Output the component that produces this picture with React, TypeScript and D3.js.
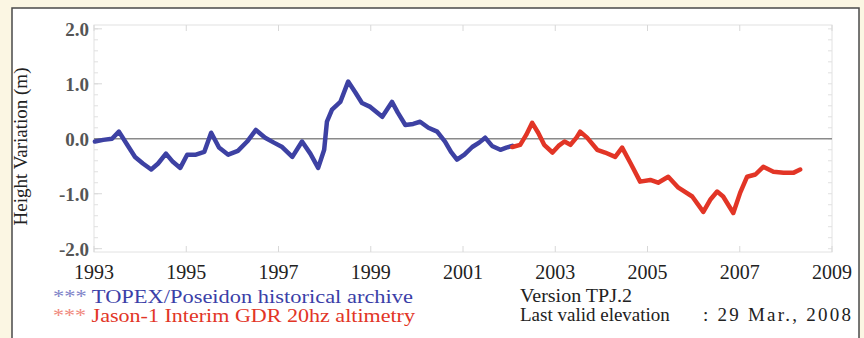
import React from "react";
import * as d3 from "d3";

const topexYears = [1993.02,1993.2,1993.39,1993.54,1993.72,1993.89,1994.06,1994.24,1994.39,1994.56,1994.71,1994.87,1995.02,1995.21,1995.39,1995.54,1995.71,1995.91,1996.12,1996.32,1996.51,1996.71,1996.9,1997.08,1997.3,1997.51,1997.69,1997.86,1997.99,1998.05,1998.16,1998.34,1998.51,1998.66,1998.81,1998.99,1999.25,1999.46,1999.59,1999.75,1999.92,2000.07,2000.25,2000.44,2000.61,2000.74,2000.87,2001.03,2001.2,2001.35,2001.48,2001.63,2001.81,2001.94,2002.07];
const topexValues = [-0.05,-0.02,0.0,0.13,-0.11,-0.33,-0.45,-0.56,-0.45,-0.27,-0.42,-0.53,-0.29,-0.29,-0.24,0.11,-0.16,-0.29,-0.22,-0.05,0.16,0.02,-0.07,-0.15,-0.33,-0.05,-0.27,-0.53,-0.2,0.31,0.53,0.67,1.04,0.85,0.65,0.58,0.4,0.67,0.47,0.25,0.27,0.31,0.2,0.13,-0.05,-0.24,-0.38,-0.29,-0.15,-0.07,0.02,-0.13,-0.2,-0.16,-0.13];

const jasonYears = [2002.07,2002.24,2002.37,2002.5,2002.63,2002.76,2002.94,2003.07,2003.2,2003.33,2003.46,2003.54,2003.69,2003.91,2004.08,2004.3,2004.45,2004.63,2004.84,2005.06,2005.23,2005.45,2005.67,2005.97,2006.21,2006.36,2006.51,2006.64,2006.86,2007.01,2007.16,2007.34,2007.51,2007.73,2007.95,2008.16,2008.31];
const jasonValues = [-0.15,-0.11,0.07,0.29,0.11,-0.11,-0.25,-0.13,-0.05,-0.11,0.02,0.13,0.02,-0.2,-0.25,-0.33,-0.16,-0.44,-0.78,-0.75,-0.8,-0.69,-0.89,-1.05,-1.33,-1.11,-0.96,-1.05,-1.35,-0.98,-0.69,-0.65,-0.51,-0.6,-0.62,-0.62,-0.56];

const xTicks = [1993, 1995, 1997, 1999, 2001, 2003, 2005, 2007, 2009];
const yTicks = [2, 1, 0, -1, -2];
const yMinor = d3.range(-2, 2.01, 0.2);

export default function App() {
  const W = 864, H = 338;
  const left = 94, right = 832, top = 25, bottom = 252;
  const x = d3.scaleLinear().domain([1993, 2009]).range([left, right]);
  const y = d3.scaleLinear().domain([-2.06, 2.07]).range([bottom, top]);
  const line = d3.line<[number, number]>().x(d => x(d[0])).y(d => y(d[1])).curve(d3.curveLinear);
  const topex: [number, number][] = topexYears.map((t, i) => [t, topexValues[i]]);
  const jason: [number, number][] = jasonYears.map((t, i) => [t, jasonValues[i]]);
  const serif = "'Liberation Serif', 'DejaVu Serif', serif";
  return (
    <svg width={W} height={H} style={{ position: "absolute", left: 0, top: 0 }}>
      <rect x={0} y={0} width={W} height={H} fill="#fbf6e3" />
      <rect x={12} y={8} width={847} height={340} fill="#ffffff" stroke="#4a4a4a" strokeWidth={1.5} />
      <rect x={left} y={top} width={right - left} height={bottom - top} fill="none" stroke="#e2e2e2" strokeWidth={1} />
      {yMinor.map((v, i) => (
        <g key={"m" + i}>
          <line x1={left} x2={left + 4} y1={y(v)} y2={y(v)} stroke="#e0e0e0" />
          <line x1={right - 4} x2={right} y1={y(v)} y2={y(v)} stroke="#e0e0e0" />
        </g>
      ))}
      {xTicks.map(t => (
        <g key={"xt" + t}>
          <line x1={x(t)} x2={x(t)} y1={bottom} y2={bottom - 6} stroke="#d8d8d8" />
          <line x1={x(t)} x2={x(t)} y1={top} y2={top + 6} stroke="#d8d8d8" />
          <text x={x(t)} y={279} textAnchor="middle" fontFamily={serif} fontSize={20} fill="#222">{t}</text>
        </g>
      ))}
      {yTicks.map(v => (
        <g key={"yt" + v}>
          <line x1={left} x2={left + 8} y1={y(v)} y2={y(v)} stroke="#d8d8d8" />
          <text x={89} y={y(v) + 7} textAnchor="end" fontFamily={serif} fontSize={19} fontWeight="bold" fill="#555">{v.toFixed(1)}</text>
        </g>
      ))}
      <line x1={left} x2={right} y1={y(0)} y2={y(0)} stroke="#8a8a8a" strokeWidth={1.5} />
      <path d={line(topex) || ""} fill="none" stroke="#3d41a3" strokeWidth={4.5} strokeLinejoin="round" strokeLinecap="round" />
      <path d={line(jason) || ""} fill="none" stroke="#e23526" strokeWidth={4.5} strokeLinejoin="round" strokeLinecap="round" />
      <text transform={`translate(27,${(top + bottom) / 2 + 8}) rotate(-90)`} textAnchor="middle" fontFamily={serif} fontSize={19} fill="#222">Height Variation (m)</text>
      <text x={53} y={303} fontFamily={serif} fontSize={18} fill="#3b3fa8" textLength={360} lengthAdjust="spacingAndGlyphs"><tspan fill="#7f84c8">***</tspan> TOPEX/Poseidon historical archive</text>
      <text x={53} y={322} fontFamily={serif} fontSize={18} fill="#e23526" textLength={362} lengthAdjust="spacingAndGlyphs"><tspan fill="#f08a80">***</tspan> Jason-1 Interim GDR 20hz altimetry</text>
      <text x={520} y={302} fontFamily={serif} fontSize={19} fill="#222" textLength={112} lengthAdjust="spacingAndGlyphs">Version TPJ.2</text>
      <text x={520} y={321} fontFamily={serif} fontSize={19} fill="#222">Last valid elevation</text>
      <text x={703} y={321} fontFamily={serif} fontSize={19} fill="#222" textLength={148} lengthAdjust="spacing">: 29 Mar., 2008</text>
    </svg>
  );
}
